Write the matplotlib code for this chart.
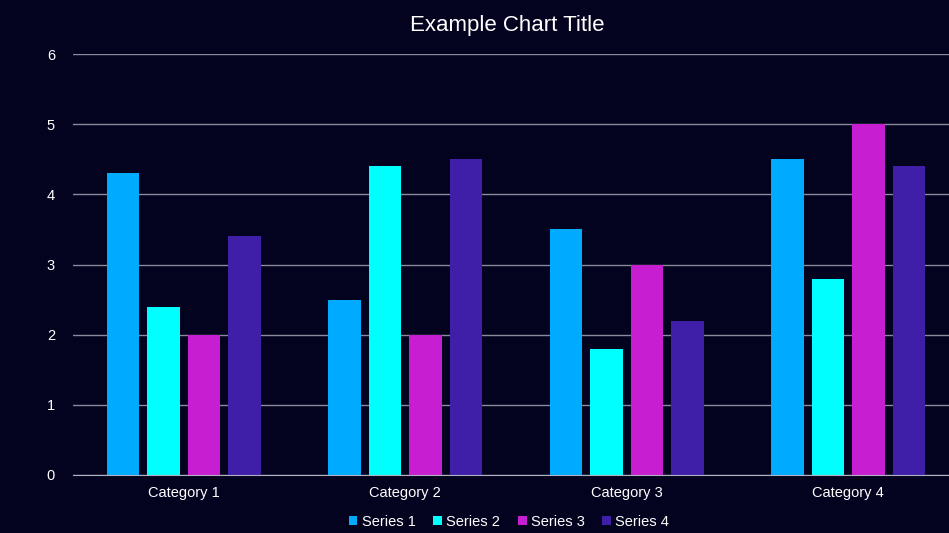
import matplotlib
matplotlib.use("Agg")
import matplotlib.pyplot as plt
import numpy as np

plt.rcParams['font.family'] = ['Liberation Sans', 'DejaVu Sans']

categories = ["Category 1", "Category 2", "Category 3", "Category 4"]
series_names = ["Series 1", "Series 2", "Series 3", "Series 4"]
series1 = [4.3, 2.5, 3.5, 4.5]
series2 = [2.4, 4.4, 1.8, 2.8]
series3 = [2.0, 2.0, 3.0, 5.0]
series4 = [3.4, 4.5, 2.2, 4.4]
colors = ["#00AAFF", "#00FFFF", "#C81ED2", "#3F1EA8"]
yticks = [0, 1, 2, 3, 4, 5, 6]

bg = "#03021F"
fig = plt.figure(figsize=(9.49, 5.33), dpi=100, facecolor=bg)
ax = fig.add_axes([73/949, 58/533, 886/949, 421/533], facecolor=bg)

x = np.arange(len(categories))
width = 0.145
pitch = 0.183
for i, (vals, name, c) in enumerate(zip([series1, series2, series3, series4], series_names, colors)):
    ax.bar(x + (i - 1.5) * pitch, vals, width, color=c, label=name, zorder=3)

ax.set_xlim(-0.5, 3.5)
ax.set_ylim(0, 6)
ax.set_yticks(yticks)
ax.set_xticks(x)
ax.set_xticklabels(categories)
ax.tick_params(axis='both', colors='white', labelsize=10.5, length=0)
ax.tick_params(axis='y', pad=13)
ax.tick_params(axis='x', pad=8)
ax.yaxis.grid(True, color='#8a8a9a', linewidth=1, zorder=0)
for s in ['top', 'right', 'left']:
    ax.spines[s].set_visible(False)
ax.spines['bottom'].set_color('#b0b0c0')
ax.spines['bottom'].set_zorder(4)

fig.text(507/949, 1 - 25/533, "Example Chart Title", color='white', fontsize=16, ha='center', va='center')

leg = fig.legend(loc='center', bbox_to_anchor=(509/949, 1 - 522/533), ncol=4, frameon=False,
                 fontsize=10.5, handlelength=0.6, handleheight=0.6, handletextpad=0.3,
                 columnspacing=1.2, labelcolor='white')

fig.savefig("out.png", dpi=100, facecolor=bg)
